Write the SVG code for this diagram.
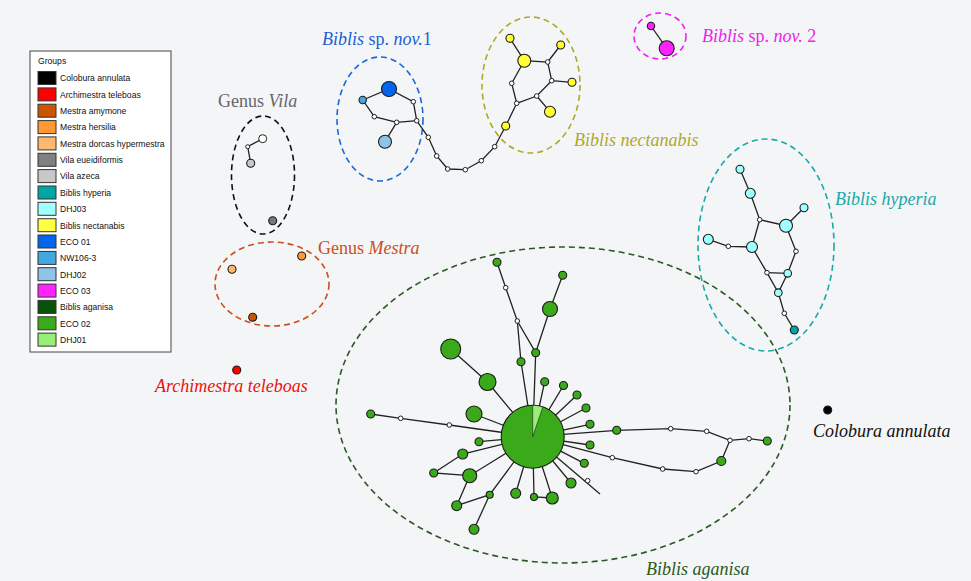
<svg xmlns="http://www.w3.org/2000/svg" width="971" height="581" viewBox="0 0 971 581">
<style>
.bg{fill:#f4f5f7}
.e{stroke:#222;stroke-width:1.3;fill:none}
.n{stroke:#1a1a1a;stroke-width:1.1}
.w{fill:#ffffff;stroke:#222;stroke-width:1}
.g{fill:#3aaa1a}
.hy{fill:#a0ffff}
.ye{fill:#ffff33}
.lab{font-family:"Liberation Serif","Times New Roman",serif;font-size:18px}
.it{font-style:italic}
.leg{font-family:"Liberation Sans",Arial,sans-serif;font-size:8.6px;fill:#111}
.sw{stroke:#333;stroke-width:1}
.grp{fill:none;stroke-width:1.6;stroke-dasharray:6,4}
</style>
<rect class="bg" x="0" y="0" width="971" height="581"/>

<g id="legend">
<rect x="30" y="51" width="141" height="301" fill="#ffffff" stroke="#444" stroke-width="1"/>
<text class="leg" x="38" y="64">Groups</text>
<rect class="sw" x="38" y="71.5" width="18" height="13" fill="#000000"/><text class="leg" x="60" y="81.3">Colobura annulata</text>
<rect class="sw" x="38" y="87.9" width="18" height="13" fill="#ff0000"/><text class="leg" x="60" y="97.7">Archimestra teleboas</text>
<rect class="sw" x="38" y="104.2" width="18" height="13" fill="#cc5500"/><text class="leg" x="60" y="114">Mestra amymone</text>
<rect class="sw" x="38" y="120.6" width="18" height="13" fill="#ff9933"/><text class="leg" x="60" y="130.4">Mestra hersilia</text>
<rect class="sw" x="38" y="136.9" width="18" height="13" fill="#ffb870"/><text class="leg" x="60" y="146.7">Mestra dorcas hypermestra</text>
<rect class="sw" x="38" y="153.3" width="18" height="13" fill="#808080"/><text class="leg" x="60" y="163.1">Vila eueidiformis</text>
<rect class="sw" x="38" y="169.6" width="18" height="13" fill="#c8c8c8"/><text class="leg" x="60" y="179.4">Vila azeca</text>
<rect class="sw" x="38" y="186" width="18" height="13" fill="#00a6a6"/><text class="leg" x="60" y="195.8">Biblis hyperia</text>
<rect class="sw" x="38" y="202.3" width="18" height="13" fill="#a0ffff"/><text class="leg" x="60" y="212.1">DHJ03</text>
<rect class="sw" x="38" y="218.7" width="18" height="13" fill="#ffff44"/><text class="leg" x="60" y="228.5">Biblis nectanabis</text>
<rect class="sw" x="38" y="235" width="18" height="13" fill="#0066ee"/><text class="leg" x="60" y="244.8">ECO 01</text>
<rect class="sw" x="38" y="251.4" width="18" height="13" fill="#44a8e0"/><text class="leg" x="60" y="261.2">NW106-3</text>
<rect class="sw" x="38" y="267.7" width="18" height="13" fill="#8ec4e8"/><text class="leg" x="60" y="277.5">DHJ02</text>
<rect class="sw" x="38" y="284.1" width="18" height="13" fill="#ff22ff"/><text class="leg" x="60" y="293.9">ECO 03</text>
<rect class="sw" x="38" y="300.4" width="18" height="13" fill="#0a520a"/><text class="leg" x="60" y="310.2">Biblis aganisa</text>
<rect class="sw" x="38" y="316.8" width="18" height="13" fill="#3aaa1a"/><text class="leg" x="60" y="326.6">ECO 02</text>
<rect class="sw" x="38" y="333.1" width="18" height="13" fill="#99ee77"/><text class="leg" x="60" y="342.9">DHJ01</text>
</g>

<g id="group-outlines">
<ellipse class="grp" cx="263" cy="175" rx="31.5" ry="59" stroke="#111"/>
<ellipse class="grp" cx="272" cy="284" rx="57" ry="42" stroke="#cc4e1a"/>
<ellipse class="grp" cx="380" cy="119" rx="43" ry="62" stroke="#1a66dd"/>
<ellipse class="grp" cx="531" cy="85" rx="49" ry="68" stroke="#b0a82a"/>
<ellipse class="grp" cx="660" cy="36" rx="26" ry="23" stroke="#ee22ee"/>
<ellipse class="grp" cx="766" cy="245" rx="68" ry="106" stroke="#1aa8a8"/>
<ellipse class="grp" cx="563" cy="405" rx="227" ry="158" stroke="#2a5a22"/>
</g>

<g id="connectors">
<!-- Vila -->
<polyline class="e" points="262.7,138.7 247.7,146.7 250.7,163.3"/>
<!-- sp. nov. 2 -->
<line class="e" x1="651" y1="26" x2="666.7" y2="48.3"/>
<!-- sp. nov. 1 and chain to nectanabis -->
<polyline class="e" points="362.7,100 389,89 413.3,101.7 416.7,120.7"/>
<polyline class="e" points="362.7,100 374.3,116.7 396.7,122.3 416.7,120.7"/>
<line class="e" x1="396.7" y1="122.3" x2="385" y2="141.7"/>
<polyline class="e" points="416.7,120.7 428.3,137.3 436.7,156 447.7,169 465.3,169.7 481.3,160.7 494.7,146.7 505.7,126 516.7,103.3 511.7,83.3 524.3,60.7 510,38.3"/>
<polyline class="e" points="516.7,103.3 536.7,96 551.7,80.7 547.7,62 524.3,60.7"/>
<line class="e" x1="547.7" y1="62" x2="560.7" y2="45"/>
<line class="e" x1="551.7" y1="80.7" x2="572" y2="82.3"/>
<line class="e" x1="536.7" y1="96" x2="550" y2="111.7"/>
<!-- hyperia -->
<polyline class="e" points="740,169.3 750.3,193.3 759.7,219.7 786,225.7 804,207.7"/>
<polyline class="e" points="759.7,219.7 752,247 767,272.7 778.3,292.7 784.3,313.3 794.3,330"/>
<polyline class="e" points="708.3,239.3 728.3,246.3 752,247"/>
<polyline class="e" points="786,225.7 796,251.3 787.7,273.3 778.3,292.7"/>
<line class="e" x1="767" y1="272.7" x2="787.7" y2="273.3"/>
<!-- aganisa -->
<polyline class="e" points="532.7,436.7 449.3,425 400.7,418.3 370.7,414"/>
<line class="e" x1="532.7" y1="436.7" x2="474" y2="414"/>
<polyline class="e" points="532.7,436.7 487.5,382 450.7,349"/>
<line class="e" x1="532.7" y1="436.7" x2="479" y2="441.7"/>
<polyline class="e" points="532.7,436.7 462.7,454 433.7,473 469.7,475.7 532.7,436.7"/>
<polyline class="e" points="469.7,475.7 456.7,505.7 489.7,494.7 532.7,436.7"/>
<line class="e" x1="489.7" y1="494.7" x2="474" y2="529.3"/>
<line class="e" x1="532.7" y1="436.7" x2="515.7" y2="493.3"/>
<polyline class="e" points="532.7,436.7 534,497 552.3,498 532.7,436.7"/>
<line class="e" x1="532.7" y1="436.7" x2="571" y2="483"/>
<line class="e" x1="532.7" y1="436.7" x2="584.3" y2="463.3"/>
<line class="e" x1="532.7" y1="436.7" x2="600" y2="494"/>
<polyline class="e" points="532.7,436.7 612.3,457.7 662.7,469 696,471.7 721.3,461 730,440.3"/>
<polyline class="e" points="532.7,436.7 616.7,430.3 670.7,428.7 706.7,431.3 730,440.3 749,438.7 767.3,441"/>
<line class="e" x1="532.7" y1="436.7" x2="590" y2="445"/>
<line class="e" x1="532.7" y1="436.7" x2="590" y2="424.3"/>
<line class="e" x1="532.7" y1="436.7" x2="586" y2="408"/>
<line class="e" x1="532.7" y1="436.7" x2="577" y2="395"/>
<line class="e" x1="532.7" y1="436.7" x2="563.5" y2="385.5"/>
<line class="e" x1="532.7" y1="436.7" x2="544.7" y2="381.7"/>
<polyline class="e" points="532.7,436.7 535.7,352.7 550,309 562.7,275.3"/>
<polyline class="e" points="535.7,352.7 517.3,321 505.7,287.7 497,262.3"/>
<polyline class="e" points="517.3,321 521,361.7 532.7,436.7"/>
</g>

<g id="node-colobura"><circle class="n" cx="827.7" cy="410" r="4" fill="#000"/></g>
<g id="node-archimestra"><circle class="n" cx="236.7" cy="370" r="4" fill="#ff0000"/></g>

<g id="nodes-mestra">
<circle class="n" cx="232" cy="269.3" r="4" fill="#ffb870"/>
<circle class="n" cx="301.7" cy="256" r="4" fill="#ff9933"/>
<circle class="n" cx="252.7" cy="317.3" r="4" fill="#cc5500"/>
</g>

<g id="nodes-vila">
<circle class="w" cx="262.7" cy="138.7" r="4"/>
<circle class="w" cx="247.7" cy="146.7" r="2"/>
<circle class="n" cx="250.7" cy="163.3" r="4" fill="#c8c8c8"/>
<circle class="n" cx="272.7" cy="220.7" r="4" fill="#777777"/>
</g>

<g id="nodes-spnov1">
<circle class="n" cx="389" cy="89" r="7.5" fill="#0066ee"/>
<circle class="n" cx="362.7" cy="100" r="3.7" fill="#44a8e0"/>
<circle class="n" cx="385" cy="141.7" r="6.5" fill="#8ec4e8"/>
<circle class="w" cx="374.3" cy="116.7" r="2.3"/>
<circle class="w" cx="396.7" cy="122.3" r="2.3"/>
<circle class="w" cx="413.3" cy="101.7" r="2.3"/>
<circle class="w" cx="416.7" cy="120.7" r="2.3"/>
<circle class="w" cx="428.3" cy="137.3" r="2.3"/>
<circle class="w" cx="436.7" cy="156" r="2.3"/>
<circle class="w" cx="447.7" cy="169" r="2.3"/>
<circle class="w" cx="465.3" cy="169.7" r="2.3"/>
<circle class="w" cx="481.3" cy="160.7" r="2.3"/>
<circle class="w" cx="494.7" cy="146.7" r="2.3"/>
</g>

<g id="nodes-nectanabis">
<circle class="n ye" cx="505.7" cy="126" r="4"/>
<circle class="w" cx="516.7" cy="103.3" r="2.3"/>
<circle class="w" cx="511.7" cy="83.3" r="2.3"/>
<circle class="n ye" cx="524.3" cy="60.7" r="6.5"/>
<circle class="n ye" cx="510" cy="38.3" r="4"/>
<circle class="w" cx="547.7" cy="62" r="2.3"/>
<circle class="n ye" cx="560.7" cy="45" r="4"/>
<circle class="w" cx="551.7" cy="80.7" r="2.3"/>
<circle class="n ye" cx="572" cy="82.3" r="4"/>
<circle class="w" cx="536.7" cy="96" r="2.3"/>
<circle class="n ye" cx="550" cy="111.7" r="5.5"/>
</g>

<g id="nodes-spnov2">
<circle class="n" cx="651" cy="26" r="3.7" fill="#ff22ff"/>
<circle class="n" cx="666.7" cy="48.3" r="7.5" fill="#ff22ff"/>
</g>

<g id="nodes-hyperia">
<circle class="n hy" cx="740" cy="169.3" r="4"/>
<circle class="n hy" cx="750.3" cy="193.3" r="5"/>
<circle class="w" cx="759.7" cy="219.7" r="2.3"/>
<circle class="n hy" cx="786" cy="225.7" r="6.5"/>
<circle class="n hy" cx="804" cy="207.7" r="4"/>
<circle class="n hy" cx="708.3" cy="239.3" r="5"/>
<circle class="w" cx="728.3" cy="246.3" r="2.3"/>
<circle class="n hy" cx="752" cy="247" r="5.5"/>
<circle class="w" cx="796" cy="251.3" r="2.3"/>
<circle class="w" cx="767" cy="272.7" r="2.3"/>
<circle class="n hy" cx="787.7" cy="273.3" r="3.8"/>
<circle class="n hy" cx="778.3" cy="292.7" r="3.8"/>
<circle class="w" cx="784.3" cy="313.3" r="2.3"/>
<circle class="n" cx="794.3" cy="330" r="4" fill="#00a6a6"/>
</g>

<g id="nodes-aganisa">
<circle class="n g" cx="532.7" cy="436.7" r="31.5"/>
<path d="M532.7,436.7 L532.7,405.2 A31.5,31.5 0 0 1 542.9,406.9 Z" fill="#99ee77" stroke="#1a1a1a" stroke-width="0.6"/>
<circle class="n g" cx="370.7" cy="414" r="4"/>
<circle class="w" cx="400.7" cy="418.3" r="2.3"/>
<circle class="w" cx="449.3" cy="425" r="2.3"/>
<circle class="n g" cx="474" cy="414" r="8"/>
<circle class="n g" cx="487.5" cy="382" r="8.5"/>
<circle class="n g" cx="450.7" cy="349" r="10"/>
<circle class="n g" cx="479" cy="441.7" r="4"/>
<circle class="n g" cx="462.7" cy="454" r="5"/>
<circle class="n g" cx="433.7" cy="473" r="4"/>
<circle class="n g" cx="469.7" cy="475.7" r="7"/>
<circle class="n g" cx="456.7" cy="505.7" r="5"/>
<circle class="n g" cx="489.7" cy="494.7" r="3.5"/>
<circle class="n g" cx="474" cy="529.3" r="5"/>
<circle class="n g" cx="515.7" cy="493.3" r="5"/>
<circle class="n g" cx="534" cy="497" r="3.5"/>
<circle class="n g" cx="552.3" cy="498" r="6"/>
<circle class="n g" cx="571" cy="483" r="5"/>
<circle class="n g" cx="584.3" cy="463.3" r="4"/>
<circle class="w" cx="587.7" cy="480.7" r="2.3"/>
<circle class="n g" cx="590" cy="445" r="4"/>
<circle class="n g" cx="590" cy="424.3" r="4"/>
<circle class="n g" cx="586" cy="408" r="4"/>
<circle class="n g" cx="577" cy="395" r="4"/>
<circle class="n g" cx="563.5" cy="385.5" r="4"/>
<circle class="n g" cx="544.7" cy="381.7" r="4"/>
<circle class="n g" cx="535.7" cy="352.7" r="4"/>
<circle class="n g" cx="550" cy="309" r="7.5"/>
<circle class="n g" cx="562.7" cy="275.3" r="4"/>
<circle class="w" cx="517.3" cy="321" r="2.3"/>
<circle class="n g" cx="521" cy="361.7" r="4"/>
<circle class="w" cx="505.7" cy="287.7" r="2.3"/>
<circle class="n g" cx="497" cy="262.3" r="4"/>
<circle class="n g" cx="616.7" cy="430.3" r="4"/>
<circle class="w" cx="670.7" cy="428.7" r="2.3"/>
<circle class="w" cx="706.7" cy="431.3" r="2.3"/>
<circle class="w" cx="730" cy="440.3" r="2.3"/>
<circle class="w" cx="749" cy="438.7" r="2.3"/>
<circle class="n g" cx="767.3" cy="441" r="4"/>
<circle class="w" cx="612.3" cy="457.7" r="2.3"/>
<circle class="w" cx="662.7" cy="469" r="2.3"/>
<circle class="w" cx="696" cy="471.7" r="2.3"/>
<circle class="n g" cx="721.3" cy="461" r="4.5"/>
</g>

<g id="labels">
<text class="lab" x="218" y="107" fill="#666666">Genus <tspan class="it">Vila</tspan></text>
<text class="lab" x="318" y="254" fill="#cc4e1a">Genus <tspan class="it">Mestra</tspan></text>
<text class="lab it" x="155" y="392" fill="#ee1111">Archimestra teleboas</text>
<text class="lab it" x="813" y="437" fill="#111111">Colobura annulata</text>
<text class="lab" x="322" y="45" fill="#1a5fd6"><tspan class="it">Biblis</tspan> sp. <tspan class="it">nov.</tspan>1</text>
<text class="lab it" x="574" y="146" fill="#b0a82a">Biblis nectanabis</text>
<text class="lab" x="702" y="42" fill="#ee22ee"><tspan class="it">Biblis</tspan> sp. <tspan class="it">nov.</tspan> 2</text>
<text class="lab it" x="835" y="205" fill="#1aa8a8">Biblis hyperia</text>
<text class="lab it" x="646" y="575" fill="#2a5a22">Biblis aganisa</text>
</g>
</svg>
